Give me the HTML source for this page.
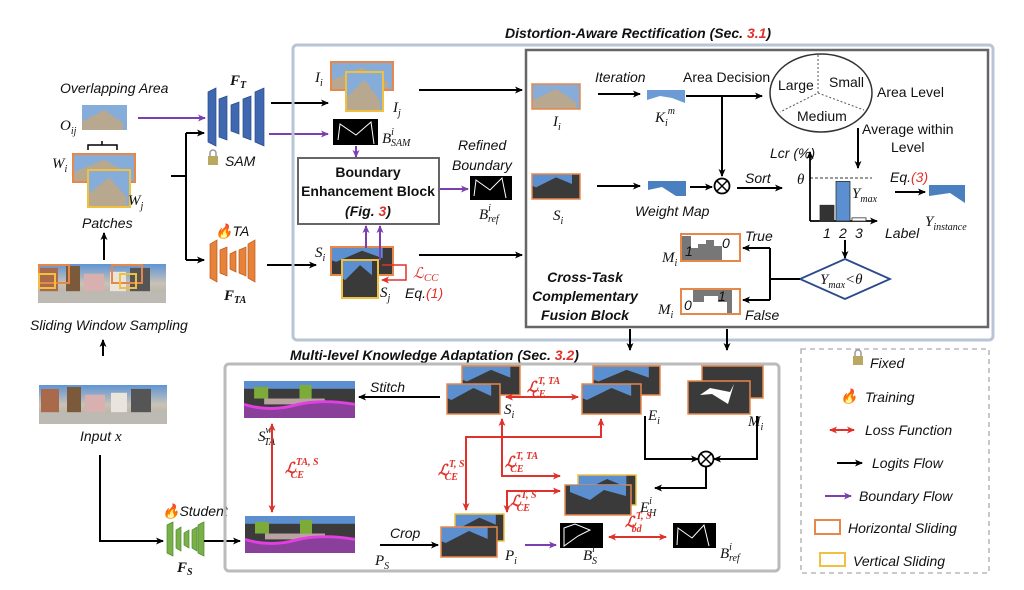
<!DOCTYPE html>
<html><head><meta charset="utf-8"><style>
html,body{margin:0;padding:0;background:#fff;}
svg{display:block;}
text{font-family:"Liberation Sans",sans-serif;font-style:italic;font-size:14px;fill:#111;}
.m{font-family:"Liberation Serif",serif;font-style:italic;font-size:15px;}
.b{font-weight:bold;font-style:normal;}
.bi{font-weight:bold;font-style:italic;}
.r{fill:#e0322a;}
.n{font-style:normal;}
</style></head><body>
<svg width="1024" height="590" viewBox="0 0 1024 590" xmlns="http://www.w3.org/2000/svg">
<defs>
<marker id="ak" markerWidth="8" markerHeight="8" refX="7" refY="4" orient="auto" markerUnits="userSpaceOnUse"><path d="M0,0.5 L8,4 L0,7.5 L2,4z" fill="#000"/></marker>
<marker id="ap" markerWidth="8" markerHeight="8" refX="7" refY="4" orient="auto" markerUnits="userSpaceOnUse"><path d="M0,0.5 L8,4 L0,7.5 L2,4z" fill="#7b3fb0"/></marker>
<marker id="ar" markerWidth="8" markerHeight="8" refX="7" refY="4" orient="auto-start-reverse" markerUnits="userSpaceOnUse"><path d="M0,0.5 L8,4 L0,7.5 L2,4z" fill="#e0322a"/></marker>
<linearGradient id="pg" x1="0" y1="0" x2="0" y2="1"><stop offset="0" stop-color="#5f95d6"/><stop offset="0.5" stop-color="#c9c2b6"/><stop offset="1" stop-color="#a9a49c"/></linearGradient>
<symbol id="pano" viewBox="0 0 128 40" preserveAspectRatio="none">
<rect width="128" height="40" fill="url(#pg)"/><rect x="2" y="4" width="18" height="24" fill="#a86a4a"/><rect x="28" y="2" width="14" height="26" fill="#7a5a3a"/><rect x="46" y="10" width="20" height="18" fill="#d9b0b0"/><rect x="72" y="8" width="16" height="20" fill="#e9e4dc"/><rect x="92" y="4" width="20" height="24" fill="#555"/><rect x="0" y="28" width="128" height="12" fill="#bdbab4"/>
</symbol>
<symbol id="bld" viewBox="0 0 60 30" preserveAspectRatio="none"><rect width="60" height="30" fill="#86acd9"/><polygon points="0,30 0,20 30,6 55,22 55,30" fill="#b8a890"/></symbol>
<symbol id="segp" viewBox="0 0 60 30" preserveAspectRatio="none"><rect width="60" height="30" fill="#3a3a3a"/><polygon points="0,0 50,0 50,12 30,4 5,16 0,14" fill="#5b8fcf"/></symbol>
<symbol id="seg" viewBox="0 0 110 38" preserveAspectRatio="none"><rect width="110" height="38" fill="#3b3b3b"/><rect x="0" y="0" width="110" height="8" fill="#5b8fcf"/><rect x="10" y="6" width="14" height="12" fill="#7dab3a"/><rect x="55" y="4" width="12" height="14" fill="#7dab3a"/><rect x="20" y="18" width="60" height="6" fill="#b9a2a0"/><path d="M0,24 Q25,34 50,26 T110,24 V38 H0Z" fill="#8a3f9a"/><path d="M0,24 Q25,32 50,25 T110,24" stroke="#e040e0" stroke-width="3" fill="none"/></symbol>
</defs>

<!-- Left column -->
<text x="60" y="93">Overlapping Area</text>
<use href="#bld" x="82" y="105" width="45" height="25"/>
<text class="m" x="60" y="130">O<tspan font-size="10" dy="4">ij</tspan></text>
<path d="M88,150 V145 H117 V150 M102,145 V141" stroke="#000" fill="none" stroke-width="1.5"/>
<use href="#bld" x="73" y="154" width="62" height="28"/>
<rect x="73" y="154" width="62" height="28" fill="none" stroke="#e8874a" stroke-width="2"/>
<use href="#bld" x="88" y="170" width="42" height="37"/>
<rect x="88" y="170" width="42" height="37" fill="none" stroke="#f0c040" stroke-width="2"/>
<text class="m" x="52" y="168">W<tspan font-size="10" dy="4">i</tspan></text>
<text class="m" x="128" y="205">W<tspan font-size="10" dy="4">j</tspan></text>
<text x="82" y="228">Patches</text>
<line x1="104" y1="260" x2="104" y2="233" stroke="#000" stroke-width="2" marker-end="url(#ak)"/>
<use href="#pano" x="38" y="264" width="128" height="39"/>
<rect x="39" y="265" width="30" height="18" fill="none" stroke="#e8874a" stroke-width="2"/><rect x="112" y="265" width="30" height="18" fill="none" stroke="#e8874a" stroke-width="2"/>
<rect x="39" y="274" width="16" height="14" fill="none" stroke="#f0c040" stroke-width="2"/><rect x="120" y="274" width="16" height="14" fill="none" stroke="#f0c040" stroke-width="2"/>
<text x="30" y="330">Sliding Window Sampling</text>
<line x1="103" y1="356" x2="103" y2="340" stroke="#000" stroke-width="2" marker-end="url(#ak)"/>
<use href="#pano" x="39" y="385" width="128" height="39"/>
<text x="80" y="441">Input <tspan class="m">x</tspan></text>
<path d="M100,455 V541 H163" stroke="#000" stroke-width="2" fill="none" marker-end="url(#ak)"/>
<!-- student encoder -->
<g fill="#79b04a" stroke="#4f8a2c" stroke-width="0.7">
<polygon points="167,525 173,522 173,556 167,553"/><polygon points="176,530 181,527 181,551 176,548"/><polygon points="184,533 189,530 189,548 184,545"/><polygon points="192,530 197,527 197,551 192,548"/><polygon points="198,525 204,522 204,556 198,553"/></g>
<text x="162" y="516"><tspan fill="#e85a20">🔥</tspan>Student</text>
<text class="m bi" x="177" y="572">F<tspan font-size="10" dy="3">S</tspan></text>
<line x1="204" y1="541" x2="240" y2="541" stroke="#000" stroke-width="2" marker-end="url(#ak)"/>

<!-- branch to encoders -->
<path d="M171,176 H186 M186,133 V260" stroke="#000" stroke-width="2" fill="none"/>
<line x1="186" y1="133" x2="204" y2="133" stroke="#000" stroke-width="2" marker-end="url(#ak)"/>
<line x1="186" y1="260" x2="204" y2="260" stroke="#000" stroke-width="2" marker-end="url(#ak)"/>
<line x1="138" y1="118" x2="205" y2="118" stroke="#7b3fb0" stroke-width="2" marker-end="url(#ap)"/>
<g fill="#3f68b0" stroke="#2a4a8a" stroke-width="0.7">
<polygon points="208,92 216,88 216,146 208,142"/><polygon points="219,99 227,96 227,140 219,137"/><polygon points="231,105 239,102 239,134 231,131"/><polygon points="243,99 251,96 251,140 243,137"/><polygon points="255,92 264,88 264,146 255,142"/></g>
<text class="m bi" x="230" y="85">F<tspan font-size="10" dy="3">T</tspan></text>
<rect x="208" y="156" width="10" height="9" fill="#b8a860"/><path d="M210,156 v-3 a3,3 0 0 1 6,0 v3" stroke="#999" fill="none" stroke-width="1.5"/>
<text x="225" y="166">SAM</text>
<g fill="#e8823a" stroke="#b85a1a" stroke-width="0.7">
<polygon points="210,244 217,240 217,282 210,278"/><polygon points="220,250 227,247 227,276 220,273"/><polygon points="230,254 236,251 236,272 230,269"/><polygon points="239,250 246,247 246,276 239,273"/><polygon points="248,244 255,240 255,282 248,278"/></g>
<text x="215" y="236"><tspan fill="#e85a20">🔥</tspan>TA</text>
<text class="m bi" x="224" y="300">F<tspan font-size="10" dy="3">TA</tspan></text>
<line x1="271" y1="103" x2="328" y2="103" stroke="#000" stroke-width="2" marker-end="url(#ak)"/>
<line x1="269" y1="134" x2="328" y2="134" stroke="#7b3fb0" stroke-width="2" marker-end="url(#ap)"/>
<line x1="267" y1="265" x2="316" y2="265" stroke="#000" stroke-width="2" marker-end="url(#ak)"/>

<!-- DAR section -->
<text class="bi" x="505" y="38" font-size="15">Distortion-Aware Rectification (Sec. <tspan class="r">3.1</tspan>)</text>
<rect x="293" y="45" width="700" height="295" rx="4" fill="none" stroke="#b9c5d5" stroke-width="3"/>
<rect x="526" y="50" width="462" height="277" fill="none" stroke="#666" stroke-width="2.5"/>
<use href="#bld" x="331" y="62" width="62" height="28"/>
<rect x="331" y="62" width="62" height="28" fill="none" stroke="#e8874a" stroke-width="2"/>
<use href="#bld" x="346" y="72" width="37" height="39"/>
<rect x="346" y="72" width="37" height="39" fill="none" stroke="#f0c040" stroke-width="2"/>
<text class="m" x="315" y="82">I<tspan font-size="10" dy="4">i</tspan></text>
<text class="m" x="393" y="112">I<tspan font-size="10" dy="4">j</tspan></text>
<rect x="333" y="119" width="45" height="26" fill="#000"/><path d="M338,140 L340,124 L356,135 L371,122 L374,144" stroke="#fff" fill="none"/>
<text class="m" x="382" y="143">B<tspan font-size="10" dy="-8">i</tspan><tspan font-size="10" dx="-3" dy="11">SAM</tspan></text>
<line x1="356" y1="146" x2="356" y2="157" stroke="#7b3fb0" stroke-width="2" marker-end="url(#ap)"/>
<rect x="298" y="158" width="141" height="66" fill="#fff" stroke="#666" stroke-width="2"/>
<text class="b" x="368" y="177" text-anchor="middle">Boundary</text>
<text class="b" x="368" y="196" text-anchor="middle">Enhancement Block</text>
<text class="bi" x="368" y="216" text-anchor="middle">(Fig. <tspan class="r">3</tspan>)</text>
<line x1="440" y1="189" x2="468" y2="189" stroke="#7b3fb0" stroke-width="2" marker-end="url(#ap)"/>
<text x="458" y="150">Refined</text>
<text x="452" y="170">Boundary</text>
<rect x="470" y="176" width="42" height="24" fill="#000"/><path d="M474,196 L476,180 L490,190 L502,178 L506,198" stroke="#fff" fill="none"/>
<text class="m" x="479" y="219">B<tspan font-size="10" dy="-8">i</tspan><tspan font-size="10" dx="-3" dy="11">ref</tspan></text>
<use href="#segp" x="331" y="247" width="62" height="28"/>
<rect x="331" y="247" width="62" height="28" fill="none" stroke="#e8874a" stroke-width="2"/>
<use href="#segp" x="342" y="260" width="36" height="38"/>
<rect x="342" y="260" width="36" height="38" fill="none" stroke="#f0c040" stroke-width="2"/>
<text class="m" x="315" y="257">S<tspan font-size="10" dy="4">i</tspan></text>
<text class="m" x="380" y="297">S<tspan font-size="10" dy="4">j</tspan></text>
<line x1="366" y1="248" x2="366" y2="226" stroke="#7b3fb0" stroke-width="2" marker-end="url(#ap)"/>
<line x1="380" y1="260" x2="380" y2="226" stroke="#7b3fb0" stroke-width="2" marker-end="url(#ap)"/>
<path d="M382,265 H406 V280 H382" stroke="#e0322a" stroke-width="1.5" fill="none" marker-end="url(#ar)"/>
<text class="m r" x="413" y="278" font-size="16">ℒ<tspan font-size="11" dy="3">CC</tspan></text>
<text x="405" y="298">Eq.<tspan class="r">(1)</tspan></text>
<line x1="419" y1="90" x2="522" y2="90" stroke="#000" stroke-width="2" marker-end="url(#ak)"/>
<line x1="419" y1="255" x2="522" y2="255" stroke="#000" stroke-width="2" marker-end="url(#ak)"/>

<!-- inner fusion content -->
<use href="#bld" x="532" y="84" width="48" height="25"/>
<rect x="532" y="84" width="48" height="25" fill="none" stroke="#e8874a" stroke-width="1.5"/>
<text class="m" x="553" y="126">I<tspan font-size="10" dy="4">i</tspan></text>
<text x="595" y="82">Iteration</text>
<line x1="598" y1="94" x2="640" y2="94" stroke="#000" stroke-width="2" marker-end="url(#ak)"/>
<polygon points="647,90 685,90 685,103 672,98 660,96 647,100" fill="#6d9bd6"/>
<text class="m" x="655" y="122">K<tspan font-size="10" dy="4">i</tspan><tspan font-size="10" dy="-12">m</tspan></text>
<text class="n" x="683" y="82">Area Decision</text>
<line x1="686" y1="96" x2="762" y2="96" stroke="#000" stroke-width="2" marker-end="url(#ak)"/>
<line x1="722" y1="96" x2="722" y2="176" stroke="#000" stroke-width="2" marker-end="url(#ak)"/>
<ellipse cx="821" cy="93" rx="51" ry="39" fill="none" stroke="#333" stroke-width="1.5"/>
<path d="M818,55 V93 L780,112 M818,93 L864,110" stroke="#555" stroke-dasharray="2,2" fill="none"/>
<text class="n" x="778" y="90">Large</text>
<text class="n" x="829" y="87">Small</text>
<text class="n" x="797" y="121">Medium</text>
<text class="n" x="877" y="97">Area Level</text>
<text class="n" x="862" y="134">Average within</text>
<text class="n" x="891" y="152">Level</text>
<line x1="858" y1="128" x2="858" y2="168" stroke="#000" stroke-width="2" marker-end="url(#ak)"/>
<use href="#segp" x="532" y="174" width="48" height="25"/>
<rect x="532" y="174" width="48" height="25" fill="none" stroke="#e8874a" stroke-width="1.5"/>
<text class="m" x="553" y="220">S<tspan font-size="10" dy="4">i</tspan></text>
<line x1="597" y1="186" x2="640" y2="186" stroke="#000" stroke-width="2" marker-end="url(#ak)"/>
<polygon points="648,181 686,181 686,196 676,196 662,187 648,190" fill="#4a7fc0"/>
<text x="635" y="216">Weight Map</text>
<line x1="690" y1="187" x2="712" y2="187" stroke="#000" stroke-width="2" marker-end="url(#ak)"/>
<circle cx="722" cy="186" r="7.5" fill="#fff" stroke="#000" stroke-width="1.8"/><path d="M717,181 L727,191 M727,181 L717,191" stroke="#000" stroke-width="1.5"/>
<text x="745" y="183">Sort</text>
<line x1="737" y1="188" x2="782" y2="188" stroke="#000" stroke-width="2" marker-end="url(#ak)"/>
<g id="lcr-chart">
<text x="770" y="158">Lcr (%)</text>
<text class="m" x="797" y="184">θ</text>
<line x1="810" y1="178" x2="872" y2="178" stroke="#333" stroke-dasharray="3,2"/>
<line x1="810" y1="221" x2="810" y2="152" stroke="#000" stroke-width="1.8" marker-end="url(#ak)"/>
<line x1="810" y1="221" x2="877" y2="221" stroke="#000" stroke-width="1.8" marker-end="url(#ak)"/>
<text x="885" y="238">Label</text>
<text class="m" x="852" y="198">Y<tspan font-size="10" dy="4">max</tspan></text>
</g>
<line x1="895" y1="192" x2="925" y2="192" stroke="#000" stroke-width="2" marker-end="url(#ak)"/>
<text x="890" y="182">Eq.<tspan class="r">(3)</tspan></text>
<polygon points="929,185 965,185 965,203 950,193 929,196" fill="#4a7fc0"/>
<text class="m" x="925" y="226">Y<tspan font-size="10" dy="4">instance</tspan></text>
<line x1="845" y1="240" x2="845" y2="258" stroke="#000" stroke-width="2" marker-end="url(#ak)"/>
<polygon points="845,259 890,279 845,299 800,279" fill="#fff" stroke="#2a4a8a" stroke-width="1.8"/>
<text class="m" x="820" y="284">Y<tspan font-size="10" dy="4">max</tspan><tspan dy="-4">&lt;θ</tspan></text>
<path d="M800,279 H770 M770,248 V300" stroke="#000" stroke-width="2" fill="none"/>
<line x1="770" y1="248" x2="743" y2="248" stroke="#000" stroke-width="2" marker-end="url(#ak)"/>
<line x1="770" y1="300" x2="743" y2="300" stroke="#000" stroke-width="2" marker-end="url(#ak)"/>
<text x="745" y="241">True</text>
<text x="745" y="320">False</text>
<rect x="681" y="234" width="59" height="27" fill="#fff" stroke="#e8874a" stroke-width="2"/>
<path d="M682,260 V236 H691 V248 H698 V244 H706 V240 H714 V246 H722 V260 Z" fill="#777"/>
<text x="685" y="256" font-size="12">1</text><text x="722" y="248" font-size="12">0</text>
<rect x="681" y="289" width="59" height="25" fill="#fff" stroke="#e8874a" stroke-width="2"/>
<path d="M693,290 V302 H704 V296 H718 V302 H727 V313 H732 V290 Z" fill="#777"/>
<text x="684" y="310" font-size="12">0</text><text x="718" y="301" font-size="12">1</text>
<text class="m" x="662" y="262">M<tspan font-size="10" dy="4">i</tspan></text>
<text class="m" x="658" y="314">M<tspan font-size="10" dy="4">i</tspan></text>
<text class="bi" x="585" y="282" text-anchor="middle">Cross-Task</text>
<text class="bi" x="585" y="301" text-anchor="middle">Complementary</text>
<text class="bi" x="585" y="320" text-anchor="middle">Fusion Block</text>
<line x1="630" y1="329" x2="630" y2="350" stroke="#000" stroke-width="2" marker-end="url(#ak)"/>
<line x1="727" y1="329" x2="727" y2="350" stroke="#000" stroke-width="2" marker-end="url(#ak)"/>

<!-- MKA section -->
<text class="bi" x="290" y="360" font-size="15">Multi-level Knowledge Adaptation (Sec. <tspan class="r">3.2</tspan>)</text>
<rect x="225" y="364" width="554" height="207" rx="4" fill="none" stroke="#bbb" stroke-width="3"/>
<use href="#seg" x="244" y="381" width="111" height="37"/>
<text class="m" x="258" y="441">S<tspan font-size="10" dy="-8">w</tspan><tspan font-size="10" dx="-8" dy="12">TA</tspan></text>
<line x1="272" y1="424" x2="272" y2="512" stroke="#e0322a" stroke-width="2" marker-start="url(#ar)" marker-end="url(#ar)"/>
<text class="m r bi" x="285" y="473" font-size="16">ℒ<tspan font-size="10" dy="-8">TA, S</tspan><tspan font-size="10" dx="-28" dy="13">CE</tspan></text>
<use href="#seg" x="245" y="516" width="110" height="37"/>
<text class="m" x="375" y="565">P<tspan font-size="10" dy="4">S</tspan></text>
<text x="390" y="538">Crop</text>
<line x1="380" y1="545" x2="438" y2="545" stroke="#000" stroke-width="2" marker-end="url(#ak)"/>
<text x="370" y="392">Stitch</text>
<line x1="440" y1="397" x2="359" y2="397" stroke="#000" stroke-width="2" marker-end="url(#ak)"/>

<use href="#segp" x="462" y="366" width="58" height="29"/><rect x="462" y="366" width="58" height="29" fill="none" stroke="#e8874a" stroke-width="1.5"/>
<use href="#segp" x="447" y="384" width="53" height="30"/><rect x="447" y="384" width="53" height="30" fill="none" stroke="#e8874a" stroke-width="1.5"/>
<text class="m" x="504" y="414">S<tspan font-size="10" dy="4">i</tspan></text>
<use href="#segp" x="593" y="366" width="67" height="29"/><rect x="593" y="366" width="67" height="29" fill="none" stroke="#e8874a" stroke-width="1.5"/>
<use href="#segp" x="582" y="384" width="59" height="30"/><rect x="582" y="384" width="59" height="30" fill="none" stroke="#e8874a" stroke-width="1.5"/>
<text class="m" x="648" y="420">E<tspan font-size="10" dy="4">i</tspan></text>
<rect x="702" y="366" width="61" height="32" fill="#3a3a3a" stroke="#e8874a" stroke-width="1.5"/>
<rect x="688" y="381" width="62" height="33" fill="#3a3a3a" stroke="#e8874a" stroke-width="1.5"/><polygon points="700,395 710,388 730,392 734,384 728,404 712,394" fill="#fff"/>
<text class="m" x="748" y="426">M<tspan font-size="10" dy="4">i</tspan></text>
<line x1="506" y1="397" x2="578" y2="397" stroke="#e0322a" stroke-width="2" marker-start="url(#ar)" marker-end="url(#ar)"/>
<text class="m r bi" x="527" y="392" font-size="16">ℒ<tspan font-size="10" dy="-8">T, TA</tspan><tspan font-size="10" dx="-28" dy="13">CE</tspan></text>
<path d="M645,416 V459 H698" stroke="#000" stroke-width="2" fill="none" marker-end="url(#ak)"/>
<path d="M757,416 V459 H714" stroke="#000" stroke-width="2" fill="none" marker-end="url(#ak)"/>
<circle cx="706" cy="459" r="7.5" fill="#fff" stroke="#000" stroke-width="1.8"/><path d="M701,454 L711,464 M711,454 L701,464" stroke="#000" stroke-width="1.5"/>
<path d="M706,467 V488 H655" stroke="#000" stroke-width="2" fill="none" marker-end="url(#ak)"/>
<use href="#segp" x="578" y="475" width="58" height="30"/><rect x="578" y="475" width="58" height="30" fill="none" stroke="#f0c040" stroke-width="1.5"/>
<rect x="565" y="485" width="66" height="30" fill="#3a3a3a" stroke="#e8874a" stroke-width="1.5"/><polygon points="570,485 626,485 626,496 604,490 590,500 570,492" fill="#5b8fcf"/>
<text class="m" x="640" y="512">E<tspan font-size="10" dy="-8">i</tspan><tspan font-size="10" dx="-3" dy="12">H</tspan></text>
<!-- red loss lines -->
<path d="M466,510 V437 H601 V419" stroke="#e0322a" stroke-width="2" fill="none" marker-start="url(#ar)" marker-end="url(#ar)"/>
<path d="M502,419 V476 H560" stroke="#e0322a" stroke-width="2" fill="none" marker-start="url(#ar)" marker-end="url(#ar)"/>
<path d="M507,512 V491 H560" stroke="#e0322a" stroke-width="2" fill="none" marker-start="url(#ar)" marker-end="url(#ar)"/>
<text class="m r bi" x="438" y="475" font-size="16">ℒ<tspan font-size="10" dy="-8">T, S</tspan><tspan font-size="10" dx="-20" dy="13">CE</tspan></text>
<text class="m r bi" x="505" y="467" font-size="16">ℒ<tspan font-size="10" dy="-8">T, TA</tspan><tspan font-size="10" dx="-28" dy="13">CE</tspan></text>
<text class="m r bi" x="510" y="506" font-size="16">ℒ<tspan font-size="10" dy="-8">T, S</tspan><tspan font-size="10" dx="-20" dy="13">CE</tspan></text>
<use href="#segp" x="455" y="514" width="49" height="27"/><rect x="455" y="514" width="49" height="27" fill="none" stroke="#f0c040" stroke-width="1.5"/>
<use href="#segp" x="441" y="527" width="56" height="30"/><rect x="441" y="527" width="56" height="30" fill="none" stroke="#e8874a" stroke-width="1.5"/>
<text class="m" x="505" y="560">P<tspan font-size="10" dy="4">i</tspan></text>
<line x1="525" y1="545" x2="556" y2="545" stroke="#7b3fb0" stroke-width="2" marker-end="url(#ap)"/>
<rect x="560" y="523" width="43" height="25" fill="#000"/><path d="M564,546 V528 L575,524 L590,530 L578,536 Z" stroke="#fff" fill="none"/>
<text class="m" x="583" y="560">B<tspan font-size="10" dy="-8">i</tspan><tspan font-size="10" dx="-3" dy="12">S</tspan></text>
<line x1="609" y1="537" x2="666" y2="537" stroke="#e0322a" stroke-width="2" marker-start="url(#ar)" marker-end="url(#ar)"/>
<text class="m r bi" x="625" y="527" font-size="16">ℒ<tspan font-size="10" dy="-8">T, S</tspan><tspan font-size="10" dx="-20" dy="13">bd</tspan></text>
<rect x="673" y="523" width="43" height="25" fill="#000"/><path d="M677,545 L678,528 L692,538 L704,525 L709,546" stroke="#fff" fill="none"/>
<text class="m" x="720" y="558">B<tspan font-size="10" dy="-8">i</tspan><tspan font-size="10" dx="-3" dy="11">ref</tspan></text>

<!-- Legend -->
<rect x="801" y="349" width="188" height="224" fill="none" stroke="#aaa" stroke-width="1.3" stroke-dasharray="5,4"/>
<g><rect x="853" y="356" width="10" height="9" fill="#b8a860"/><path d="M855,356 v-3 a3,3 0 0 1 6,0 v3" stroke="#999" fill="none" stroke-width="1.5"/><text x="870" y="368">Fixed</text></g>
<g><text x="840" y="401" fill="#e85a20">🔥</text><text x="865" y="402">Training</text></g>
<g><line x1="830" y1="430" x2="854" y2="430" stroke="#e0322a" stroke-width="2" marker-start="url(#ar)" marker-end="url(#ar)"/><text x="865" y="435">Loss Function</text></g>
<g><line x1="837" y1="463" x2="862" y2="463" stroke="#000" stroke-width="2" marker-end="url(#ak)"/><text x="872" y="468">Logits Flow</text></g>
<g><line x1="825" y1="496" x2="851" y2="496" stroke="#7b3fb0" stroke-width="2" marker-end="url(#ap)"/><text x="859" y="501">Boundary Flow</text></g>
<g><rect x="815" y="520" width="25" height="14" fill="none" stroke="#e8874a" stroke-width="2"/><text x="848" y="533">Horizontal Sliding</text></g>
<g><rect x="820" y="553" width="25" height="13" fill="none" stroke="#f0c040" stroke-width="2"/><text x="853" y="566">Vertical Sliding</text></g>

<script>
const lcrLabels = ["1", "2", "3"];
const lcrValues = [35, 88, 7];
const lcrTheta = 95;
const lcrColors = ["#333", "#5b8fcf", "#fff"];
(function(){
  const ns = "http://www.w3.org/2000/svg";
  const g = document.getElementById("lcr-chart");
  const x0 = 812, yBase = 221, h100 = 45, bw = 14, gap = 2;
  const yScale = v => yBase - v / 100 * h100 * 0.95 / (lcrTheta/100);
  lcrValues.forEach((v, i) => {
    const r = document.createElementNS(ns, "rect");
    const x = x0 + 8 + i * (bw + gap);
    const y = yScale(v);
    r.setAttribute("x", x); r.setAttribute("y", y);
    r.setAttribute("width", bw); r.setAttribute("height", yBase - y);
    r.setAttribute("fill", lcrColors[i]); r.setAttribute("stroke", "#333"); r.setAttribute("stroke-width", "0.8");
    
    
    g.appendChild(r);
    const t = document.createElementNS(ns, "text");
    t.setAttribute("x", x + 3); t.setAttribute("y", 238);
    t.textContent = lcrLabels[i];
    
    
    g.appendChild(t);
  });
})();
</script>
</svg>
</body></html>
